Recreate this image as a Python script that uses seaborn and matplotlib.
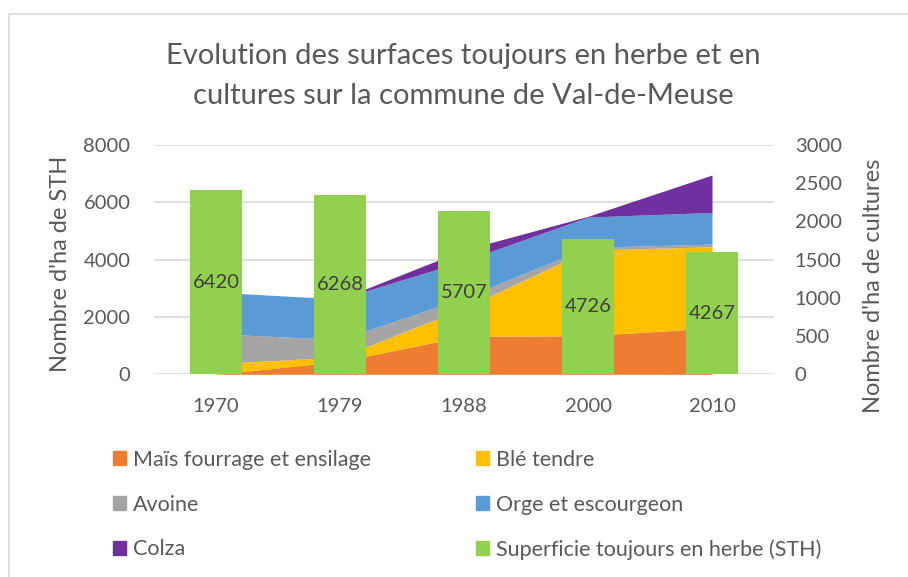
import numpy as np
import pandas as pd
import matplotlib.pyplot as plt
import matplotlib.patches as mpatches
import seaborn as sns

# data
years = ['1970', '1979', '1988', '2000', '2010']
sth = [6420, 6268, 5707, 4726, 4267]
mais = [0, 169, 497, 505, 606]
ble = [140, 56, 367, 1120, 1062]
avoine = [391, 229, 136, 35, 35]
orge = [543, 531, 483, 397, 415]
colza = [0, 0, 144, 10, 489]

crop_names = ['Maïs fourrage et ensilage', 'Blé tendre', 'Avoine',
              'Orge et escourgeon', 'Colza']
crop_colors = ['#ED7D31', '#FFC000', '#A5A5A5', '#5B9BD5', '#7030A0']
green = '#92D050'
txt = '#595959'

sns.set_theme(style='white')
plt.rcParams['font.family'] = ['Lato', 'DejaVu Sans']

df = pd.DataFrame({'annee': years, 'sth': sth})

fig = plt.figure(figsize=(9.08, 5.77), dpi=100)
ax = fig.add_axes([154 / 908, 1 - 374.3 / 577, 620 / 908, 229.3 / 577])

sns.barplot(data=df, x='annee', y='sth', color=green, width=0.42,
            saturation=1, linewidth=0, edgecolor=green, ax=ax)
ax.bar_label(ax.containers[0], label_type='center', fontsize=14.5,
             color='#404040')

# stacked areas for crops on the secondary axis
ax2 = ax.twinx()
xpos = np.arange(len(years))
ax2.stackplot(xpos, mais, ble, avoine, orge, colza, colors=crop_colors,
              labels=crop_names, linewidth=0, zorder=2)
for v in [0, 2000, 4000, 6000, 8000]:
    ax2.axhline(v * 3000 / 8000, color='#D9D9D9', lw=1.2, zorder=1)

ax.set_ylim(0, 8000)
ax2.set_ylim(0, 3000)
ax.set_xlim(-0.5, 4.5)
ax.set_yticks([0, 2000, 4000, 6000, 8000])
ax2.set_yticks(np.arange(0, 3001, 500))

# bars above the areas
ax2.set_zorder(1)
ax.set_zorder(2)
ax.patch.set_visible(False)

for a in (ax, ax2):
    for s in a.spines.values():
        s.set_visible(False)
    a.tick_params(length=0, labelsize=14.5, labelcolor=txt)
ax.tick_params(axis='x', pad=17)
ax.tick_params(axis='y', pad=17)
ax2.tick_params(axis='y', pad=15)

ax.set_xlabel('')
ax.set_ylabel("Nombre d'ha de STH", fontsize=17, color=txt)
ax.yaxis.set_label_coords(-0.134, 0.48)
ax2.set_ylabel("Nombre d'ha de cultures", fontsize=17, color=txt)
ax2.yaxis.set_label_coords(1.143, 0.385)

fig.text(463 / 908, 1 - 56 / 577, 'Evolution des surfaces toujours en herbe et en',
         ha='center', va='center', fontsize=21, color=txt)
fig.text(463 / 908, 1 - 96 / 577, 'cultures sur la commune de Val-de-Meuse',
         ha='center', va='center', fontsize=21, color=txt)

# legend: two columns placed separately
handles = [mpatches.Patch(color=c) for c in crop_colors]
sth_patch = mpatches.Patch(color=green)
col1 = [(handles[0], crop_names[0]), (handles[2], crop_names[2]),
        (handles[4], crop_names[4])]
col2 = [(handles[1], crop_names[1]), (handles[3], crop_names[3]),
        (sth_patch, 'Superficie toujours en herbe (STH)')]
for items, x0 in [(col1, 102 / 908), (col2, 465 / 908)]:
    fig.legend([h for h, _ in items], [l for _, l in items],
               loc='upper left', bbox_to_anchor=(x0, 1 - 439 / 577),
               frameon=False, fontsize=15.5, labelcolor=txt,
               handlelength=0.62, handleheight=0.62, handletextpad=0.3,
               labelspacing=1.15, borderpad=0)

# chart border like the spreadsheet frame
fig.add_artist(mpatches.Rectangle((8.5 / 908, -0.1), 1.2, 1.1 - 13.5 / 577,
                                  transform=fig.transFigure, fill=False,
                                  edgecolor='#D9D9D9', lw=1.2))

fig.savefig('out.png', dpi=100)
